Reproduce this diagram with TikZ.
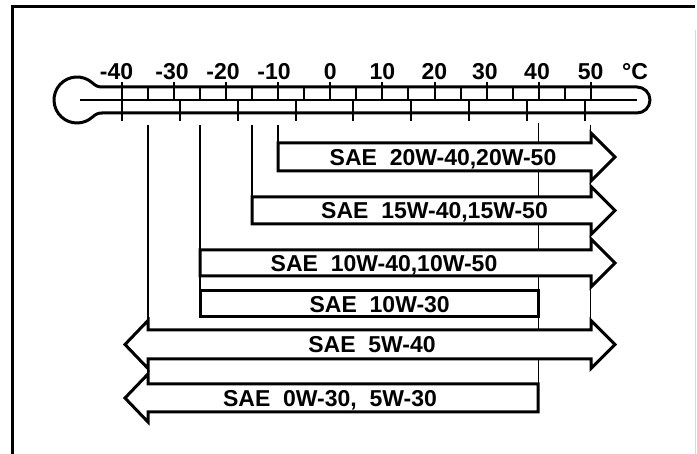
\documentclass[tikz,border=0pt]{standalone}
\usepackage{fontspec}
\setmainfont{Liberation Sans}

\begin{document}
\begin{tikzpicture}[x=1pt,y=-1pt,
    tube/.style={line width=3pt},
    scaletick/.style={line width=2pt},
    guideline/.style={line width=1.5pt},
    oilbar/.style={draw,fill=white,line width=3pt},
    templabel/.style={anchor=base,inner sep=0pt,font=\fontsize{23}{23}\selectfont\bfseries},
    oillabel/.style={anchor=base,inner sep=0pt,font=\fontsize{23}{23}\selectfont\bfseries}]
    \useasboundingbox (0,0) rectangle (697,454);
    % frame
    \draw[line width=3pt] (12.7,454) -- (12.7,6.7) -- (695,6.7);
    \draw[black!15,line width=1pt] (695.5,30) -- (695.5,454);
    % thermometer
    \draw[tube] (637,87) -- (102,87) .. controls (98,87) and (95.4,85.6) .. (92.4,82.9)
        arc[start angle=-48,end angle=-312,radius=23]
        .. controls (95.4,114.4) and (98,113) .. (102,113) -- (637,113)
        arc[start angle=90,end angle=-90,radius=13] -- cycle;
    \draw[scaletick] (80,100) -- (637,100);
    \draw[scaletick] (122.0,82) -- (122.0,100) (174.1,82) -- (174.1,100)
        (226.1,82) -- (226.1,100) (278.2,82) -- (278.2,100)
        (330.3,82) -- (330.3,100) (382.4,82) -- (382.4,100)
        (434.5,82) -- (434.5,100) (486.5,82) -- (486.5,100)
        (538.6,82) -- (538.6,100) (590.7,82) -- (590.7,100);
    \draw[scaletick] (148.0,87) -- (148.0,100) (200.1,87) -- (200.1,100)
        (252.2,87) -- (252.2,100) (304.3,87) -- (304.3,100)
        (356.3,87) -- (356.3,100) (408.4,87) -- (408.4,100)
        (460.5,87) -- (460.5,100) (512.6,87) -- (512.6,100)
        (564.7,87) -- (564.7,100);
    \draw[scaletick] (122.0,100) -- (122.0,121) (179.9,100) -- (179.9,121)
        (237.7,100) -- (237.7,121) (295.6,100) -- (295.6,121)
        (353.4,100) -- (353.4,121) (411.3,100) -- (411.3,121)
        (469.2,100) -- (469.2,121) (527.0,100) -- (527.0,121)
        (584.9,100) -- (584.9,121);
    \node[templabel] (m40) at (116.5,79.5) {-40};
    \node[templabel] (m30) at (172,79.5) {-30};
    \node[templabel] (m20) at (223,79.5) {-20};
    \node[templabel] (m10) at (274,79.5) {-10};
    \node[templabel] (p0) at (330.3,79.5) {0};
    \node[templabel] (p10) at (382.4,79.5) {10};
    \node[templabel] (p20) at (434.5,79.5) {20};
    \node[templabel] (p30) at (485,79.5) {30};
    \node[templabel] (p40) at (537,79.5) {40};
    \node[templabel] (p50) at (590.7,79.5) {50};
    \node[templabel] (unit) at (635,79.5) {°C};
    % guide lines
    \draw[guideline] (148,125) -- (148,373);
    \draw[guideline] (200.1,125) -- (200.1,291);
    \draw[guideline] (252.2,125) -- (252.2,197);
    \draw[guideline] (278.2,125) -- (278.2,143);
    \draw[guideline] (538.6,123) -- (538.6,384);
    \draw[guideline] (590.7,125) -- (590.7,330);
    % oil bars
    \draw[oilbar] (278,143) -- (591,143) -- (591,133) -- (615,157) -- (591,181)
        -- (591,171) -- (278,171) -- cycle;
    \draw[oilbar] (252,197) -- (591,197) -- (591,186.5) -- (615,210.5) -- (591,234.5)
        -- (591,224) -- (252,224) -- cycle;
    \draw[oilbar] (200,250) -- (591,250) -- (591,239) -- (615,263) -- (591,287)
        -- (591,276) -- (200,276) -- cycle;
    \draw[oilbar] (200,291) rectangle (538,317);
    \draw[oilbar] (148,330) -- (591,330) -- (591,320.5) -- (615,344.5) -- (591,368.5)
        -- (591,359) -- (148,359) -- (148,368.5) -- (125,344.5) -- (148,320.5) -- cycle;
    \draw[oilbar] (148,384) -- (538,384) -- (538,412) -- (148,412) -- (148,422)
        -- (125,398) -- (148,374) -- cycle;
    \node[oillabel] (sae1) at (443,165.3) {SAE\ \ 20W-40,20W-50};
    \node[oillabel] (sae2) at (434.5,218.8) {SAE\ \ 15W-40,15W-50};
    \node[oillabel] (sae3) at (384,271.3) {SAE\ \ 10W-40,10W-50};
    \node[oillabel] (sae4) at (379.7,312.3) {SAE\ \ 10W-30};
    \node[oillabel] (sae5) at (372,352.8) {SAE\ \ 5W-40};
    \node[oillabel] (sae6) at (330,406.3) {SAE\ \ 0W-30,\ \ 5W-30};
  \end{tikzpicture}
\end{document}
